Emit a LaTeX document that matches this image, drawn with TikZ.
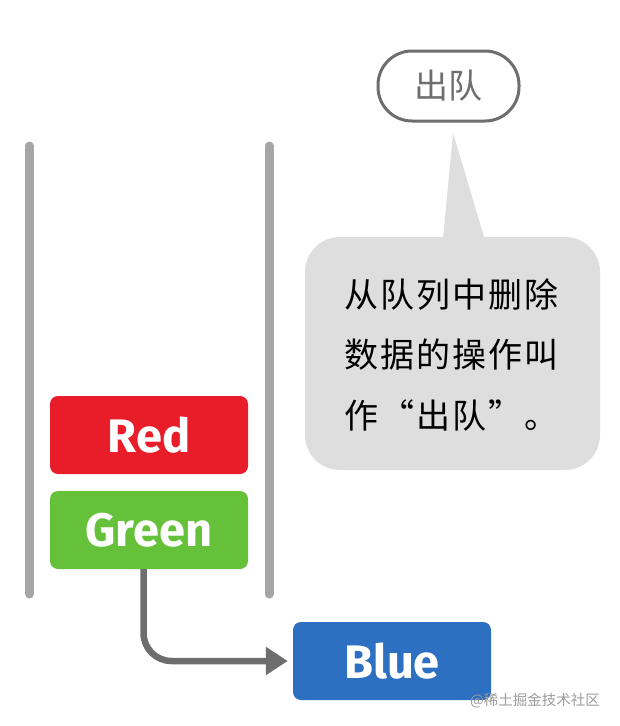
\documentclass[tikz,border=0pt]{standalone}
\usepackage{fontspec}
\setmainfont{Fira Sans}
\newfontfamily\cjk{Noto Sans CJK SC}
\newfontfamily\cjksp{Noto Sans CJK SC}[LetterSpace=6]
\usetikzlibrary{arrows.meta,calc}
\definecolor{qred}{HTML}{E91C2A}
\definecolor{qgreen}{HTML}{66C13A}
\definecolor{qblue}{HTML}{2D6FC0}
\definecolor{railgray}{HTML}{A6A6A6}
\definecolor{arrowgray}{HTML}{6E6E6E}
\definecolor{bubblefill}{HTML}{DEDEDF}
\definecolor{wmgray}{HTML}{9C9C9C}
\begin{document}
\begin{tikzpicture}[x=1pt,y=-1pt,
  qbox/.style={rectangle, rounded corners=8pt, minimum width=198pt, minimum height=78pt,
    inner sep=0pt, text=white, font=\fontsize{47}{50}\selectfont\bfseries},
  rail/.style={line width=9pt, line cap=round, draw=railgray},
  btext/.style={anchor=base west, inner sep=0pt, text=black, font=\cjksp\fontsize{34}{40}\selectfont},
]
\useasboundingbox (0,0) rectangle (619,726);
\fill[white] (0,0) rectangle (619,726);
% rails
\coordinate (la) at (29.5,146); \coordinate (lb) at (29.5,594);
\coordinate (ra) at (269,146); \coordinate (rb) at (269,594);
\draw[rail] (la) -- (lb);
\draw[rail] (ra) -- (rb);
% boxes
\node[qbox, fill=qred] (red) at (149,435) {Red};
\node[qbox, fill=qgreen] (green) at (149,530) {Green};
\node[qbox, fill=qblue] (blue) at (392,661) {Blue};
% arrow
\coordinate (gs) at ($(green.south)+(-5.5,0)$);
\draw[arrowgray, line width=6.5pt, rounded corners=28pt, shorten >=5pt,
  -{Triangle[length=22pt,width=27pt]}] (gs) |- (blue.west);
% speech bubble
\node[rectangle, rounded corners=35pt, fill=bubblefill, minimum width=295pt,
  minimum height=233pt, inner sep=0pt] (bubble) at (452.5,353.5) {};
\coordinate (tip) at (453,133);
\coordinate (tl) at (442,250);
\coordinate (tr) at (488,250);
\fill[bubblefill] (tl) -- (tip) -- (tr) -- cycle;
\node[btext] (t1) at (344,307) {从队列中删除};
\node[btext] (t2) at (344,367) {数据的操作叫};
\node[btext] (t3) at (344,428) {作“出队”。};
% pill
\node[rectangle, rounded corners=34pt, draw=arrowgray, line width=3pt, fill=white,
  minimum width=141pt, minimum height=70pt, inner sep=0pt, text=arrowgray,
  font=\cjk\fontsize{34}{40}\selectfont] (deq) at (448.5,86) {出队};
% watermark
\node[anchor=base east, inner sep=0pt, text=wmgray, font=\cjk\fontsize{14.5}{16}\selectfont]
  (wm) at (600,705) {@稀土掘金技术社区};
\end{tikzpicture}
\end{document}
